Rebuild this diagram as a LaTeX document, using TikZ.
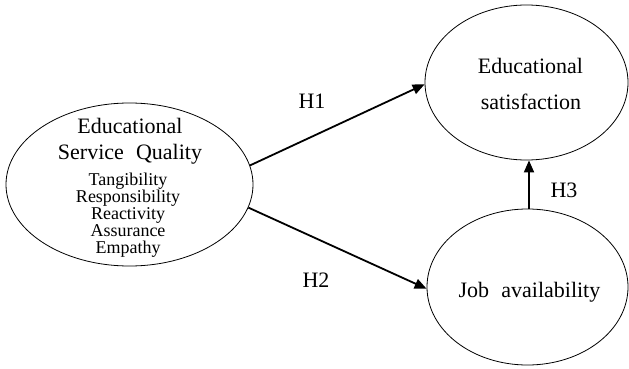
\documentclass[tikz,border=0pt]{standalone}
\usepackage{fontspec}
\setmainfont{Liberation Serif}
\usetikzlibrary{shapes.geometric,arrows.meta,calc}
\begin{document}
\begin{tikzpicture}[x=1pt,y=-1pt,
  oval/.style={draw,ellipse,line width=0.8pt,inner sep=0pt},
  big/.style={font=\fontsize{22}{26}\selectfont,inner sep=0pt,anchor=base},
  small/.style={font=\fontsize{18}{17}\selectfont,inner sep=0pt,anchor=base},
  arr/.style={line width=1.8pt,-{Triangle[length=12pt,width=10pt]}}]
\useasboundingbox (0,0) rectangle (629,369);
% ellipses
\node[oval,minimum width=247pt,minimum height=163pt] (L) at (129.5,184.5) {};
\node[oval,minimum width=203pt,minimum height=155pt] (T) at (526.5,82.5) {};
\node[oval,minimum width=201pt,minimum height=156pt] (J) at (527.5,287) {};
% texts in left ellipse
\node[big] (l1) at (130,133) {Educational};
\node[big] (l2) at (130,159) {Service\hspace{0.3em} Quality};
\node[small] (s1) at (128,185) {Tangibility};
\node[small] (s2) at (128,202) {Responsibility};
\node[small] (s3) at (128,219.5) {Reactivity};
\node[small] (s4) at (128,236.5) {Assurance};
\node[small] (s5) at (128,253) {Empathy};
% texts in right ellipses
\node[big] (t1) at (530.5,74) {Educational};
\node[big] (t2) at (531,110) {satisfaction};
\node[big] (j1) at (529.5,297) {Job\hspace{0.3em} availability};
% connectors
\coordinate (jn) at ($(J.north)+(1.5,0)$);
\coordinate (ts) at (jn |- T.south);
\draw[arr] (L.9) -- (T.181.4);
\draw[arr] (L.-11.9) -- (J.181.7);
\draw[arr] (jn) -- (ts);
% labels
\node[big] (h1) at (312,108) {H1};
\node[big] (h2) at (316,287) {H2};
\node[big] (h3) at (564,197) {H3};
\end{tikzpicture}
\end{document}
